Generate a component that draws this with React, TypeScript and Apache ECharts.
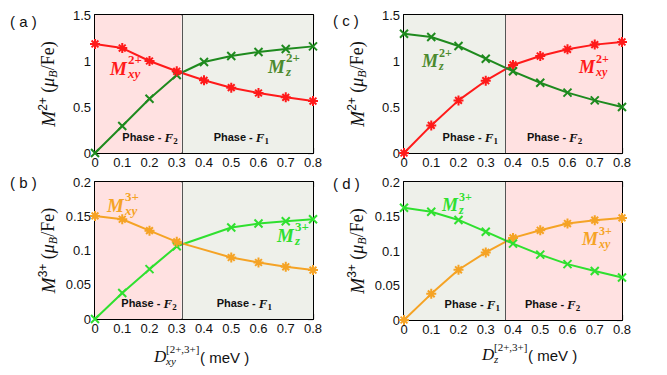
import React, { useEffect, useRef } from "react";
import * as echarts from "echarts";

// ---------- data ----------
const X_FULL = [0, 0.1, 0.2, 0.3, 0.4, 0.5, 0.6, 0.7, 0.8];
const X_B = [0, 0.1, 0.2, 0.3, 0.5, 0.6, 0.7, 0.8];

const A_MXY = [1.185, 1.141, 1.0, 0.888, 0.79, 0.71, 0.652, 0.605, 0.565];
const A_MZ = [0, 0.293, 0.59, 0.848, 0.989, 1.054, 1.098, 1.13, 1.159];
const B_MXY = [0.1505, 0.1456, 0.129, 0.1126, 0.0898, 0.0825, 0.0762, 0.0714];
const B_MZ = [0, 0.0379, 0.0728, 0.1063, 0.1335, 0.1393, 0.1427, 0.1456];
const C_MZ = [1.297, 1.261, 1.163, 1.025, 0.888, 0.764, 0.656, 0.572, 0.5];
const C_MXY = [0, 0.3, 0.572, 0.786, 0.957, 1.054, 1.127, 1.178, 1.207];
const D_MZ = [0.1626, 0.157, 0.145, 0.128, 0.1107, 0.0947, 0.081, 0.0709, 0.0617];
const D_MXY = [0, 0.0379, 0.0728, 0.098, 0.119, 0.13, 0.1398, 0.1447, 0.148];

const BOUNDARY = [0.318, 0.318, 0.374, 0.374];
const PANEL_LABELS = ["( a )", "( b )", "( c )", "( d )"];

// ---------- styles ----------
const RED = "#ff1a1a";
const ORANGE = "#f5a325";
const DKGREEN = "#1e8a1e";
const LTGREEN = "#2fe02f";
const OLIVE = "#4c8a2e";
const PINK = "#ffe1e1";
const GREYGREEN = "#eef0ea";

const ASTER = "path://M5,0L5,10M0,5L10,5M1.6,1.6L8.4,8.4M8.4,1.6L1.6,8.4";
const CROSS = "path://M0,0L10,10M10,0L0,10";

const GRIDS = [
  { left: 95, top: 15, width: 218, height: 138 },
  { left: 95, top: 182, width: 218, height: 137 },
  { left: 404, top: 15, width: 218, height: 138 },
  { left: 404, top: 182, width: 218, height: 138 },
];

const SANS = "Liberation Sans";
const SERIF = "Liberation Serif";

function stackedLabel(x: number, cy: number, main: string, sup: string, sub: string, color: string, mainSize: number, smallSize: number, mainW: number, bold: boolean) {
  const w = bold ? "bold " : "";
  return {
    type: "group",
    z: 100,
    children: [
      { type: "text", z: 100, x, y: cy, style: { text: main, fill: color, font: `italic ${w}${mainSize}px "${SERIF}"`, align: "left", verticalAlign: "middle" } },
      { type: "text", z: 100, x: x + mainW, y: cy - mainSize * 0.44, style: { text: sup, fill: color, font: `${w}${smallSize}px "${SERIF}"`, align: "left", verticalAlign: "middle" } },
      { type: "text", z: 100, x: x + mainW, y: cy + mainSize * 0.27, style: { text: sub, fill: color, font: `italic ${w}${smallSize}px "${SERIF}"`, align: "left", verticalAlign: "middle" } },
    ],
  };
}

function phaseRich() {
  return {
    p: { fontFamily: SANS, fontWeight: "bold", fontSize: 11, color: "#111", lineHeight: 16 },
    f: { fontFamily: SERIF, fontStyle: "italic", fontWeight: "bold", fontSize: 13, color: "#111", lineHeight: 16 },
    s: { fontFamily: SERIF, fontWeight: "bold", fontSize: 9, color: "#111", lineHeight: 10, verticalAlign: "bottom" },
  };
}

export default function App() {
  const ref = useRef<HTMLDivElement>(null);
  useEffect(() => {
    if (!ref.current) return;
    const chart = echarts.init(ref.current, undefined, { renderer: "svg" });

    const xAxes: any[] = [];
    const yAxes: any[] = [];
    const yMax = [1.5, 0.2, 1.5, 0.2];
    const yInt = [0.5, 0.05, 0.5, 0.05];
    const yNames = ["2+", "3+", "2+", "3+"];
    for (let i = 0; i < 4; i++) {
      const base = {
        gridIndex: i,
        type: "value",
        min: 0,
        axisLine: { show: true, onZero: false, lineStyle: { color: "#000", width: 2 } },
        axisTick: { show: true, inside: true, length: 5, lineStyle: { color: "#000", width: 1.2 } },
        minorTick: { show: true, splitNumber: 2, length: 3, lineStyle: { color: "#000", width: 1 } },
        splitLine: { show: false },
      };
      xAxes.push({
        ...base,
        max: 0.8,
        interval: 0.1,
        position: "bottom",
        axisLabel: { show: true, fontFamily: SANS, fontSize: 13, color: "#111", margin: 3, formatter: (v: number) => (v === 0 ? "0" : v.toFixed(1)) },
      });
      yAxes.push({
        ...base,
        max: yMax[i],
        interval: yInt[i],
        position: "left",
        axisLabel: { show: true, fontFamily: SANS, fontSize: 13, color: "#111", margin: 4, formatter: (v: number) => String(+v.toFixed(3)) },
        name: `{m|M}{sp|${yNames[i]}}{t| (}{mu|μ}{sb|B}{t|/Fe)}`,
        nameLocation: "middle",
        nameRotate: 90,
        nameGap: 36,
        nameTextStyle: {
          rich: {
            m: { fontFamily: SERIF, fontStyle: "italic", fontSize: 19, color: "#111", lineHeight: 22 },
            sp: { fontFamily: SANS, fontSize: 12, color: "#111", lineHeight: 12, verticalAlign: "top" },
            t: { fontFamily: SERIF, fontSize: 18, color: "#111", lineHeight: 22 },
            mu: { fontFamily: SERIF, fontStyle: "italic", fontSize: 18, color: "#111", lineHeight: 22 },
            sb: { fontFamily: SERIF, fontStyle: "italic", fontSize: 12, color: "#111", lineHeight: 12, verticalAlign: "bottom" },
          },
        },
      });
    }
    for (let i = 0; i < 4; i++) {
      const mirror = {
        gridIndex: i,
        type: "value",
        min: 0,
        axisLine: { show: true, onZero: false, lineStyle: { color: "#000", width: 2 } },
        axisTick: { show: true, inside: true, length: 5, lineStyle: { color: "#000", width: 1.2 } },
        minorTick: { show: true, splitNumber: 2, length: 3, lineStyle: { color: "#000", width: 1 } },
        splitLine: { show: false },
        axisLabel: { show: false },
      };
      xAxes.push({ ...mirror, max: 0.8, interval: 0.1, position: "top" });
      yAxes.push({ ...mirror, max: yMax[i], interval: yInt[i], position: "right" });
    }

    const pair = (xs: number[], ys: number[]) => xs.map((x, k) => [x, ys[k]]);
    const lineSeries = (i: number, data: number[][], color: string, symbol: string, size: number, z: number) => ({
      type: "line",
      xAxisIndex: i,
      yAxisIndex: i,
      data,
      symbol,
      symbolSize: size,
      showSymbol: true,
      z,
      lineStyle: { color, width: 2 },
      itemStyle: { color, borderColor: color, borderWidth: 2 },
      clip: false,
    });

    const leftPhase = ["2", "2", "1", "1"];
    const rightPhase = ["1", "1", "2", "2"];
    const leftCol = [PINK, PINK, GREYGREEN, GREYGREEN];
    const rightCol = [GREYGREEN, GREYGREEN, PINK, PINK];
    const leftGap = [4, 5, 8, 6];
    const rightGap = [32, 35, 21, 19];

    const areaSeries = (i: number) => ({
      type: "line",
      xAxisIndex: i,
      yAxisIndex: i,
      data: [],
      z: 1,
      markArea: {
        silent: true,
        data: [
          [
            { xAxis: 0, itemStyle: { color: leftCol[i] }, label: { show: true, position: "insideBottomRight", distance: 0, offset: [-leftGap[i], -8], formatter: `{p|Phase - }{f|F}{s|${leftPhase[i]}}`, rich: phaseRich() } },
            { xAxis: BOUNDARY[i] },
          ],
          [
            { xAxis: BOUNDARY[i], itemStyle: { color: rightCol[i] }, label: { show: true, position: "insideBottomLeft", distance: 0, offset: [rightGap[i], -8], formatter: `{p|Phase - }{f|F}{s|${rightPhase[i]}}`, rich: phaseRich() } },
            { xAxis: 0.8 },
          ],
        ],
      },
      markLine: {
        silent: true,
        symbol: "none",
        label: { show: false },
        lineStyle: { color: "#555", width: 1, type: "solid" },
        data: [{ xAxis: BOUNDARY[i] }],
      },
    });

    const series: any[] = [
      areaSeries(0), areaSeries(1), areaSeries(2), areaSeries(3),
      lineSeries(0, pair(X_FULL, A_MZ), DKGREEN, CROSS, 8, 3),
      lineSeries(0, pair(X_FULL, A_MXY), RED, ASTER, 10, 4),
      lineSeries(1, pair(X_B, B_MZ), LTGREEN, CROSS, 8, 3),
      lineSeries(1, pair(X_B, B_MXY), ORANGE, ASTER, 10, 4),
      lineSeries(2, pair(X_FULL, C_MXY), RED, ASTER, 10, 3),
      lineSeries(2, pair(X_FULL, C_MZ), DKGREEN, CROSS, 8, 4),
      lineSeries(3, pair(X_FULL, D_MXY), ORANGE, ASTER, 10, 3),
      lineSeries(3, pair(X_FULL, D_MZ), LTGREEN, CROSS, 8, 4),
    ];

    const panelPos = [
      [10, 21],
      [10, 182],
      [333, 20],
      [333, 183],
    ];

    const graphic: any[] = [
      ...PANEL_LABELS.map((t, i) => ({
        type: "text",
        z: 100,
        x: panelPos[i][0],
        y: panelPos[i][1],
        style: { text: t, fill: "#111", font: `15px "${SANS}"`, align: "left", verticalAlign: "middle" },
      })),
      stackedLabel(110, 68, "M", "2+", "xy", RED, 19, 13, 18, true),
      stackedLabel(268, 66, "M", "2+", "z", OLIVE, 19, 13, 18, true),
      stackedLabel(107, 205, "M", "3+", "xy", ORANGE, 19, 13, 18, true),
      stackedLabel(277, 235, "M", "3+", "z", LTGREEN, 19, 13, 18, true),
      stackedLabel(422, 61, "M", "2+", "z", OLIVE, 18, 12, 17, true),
      stackedLabel(579, 67, "M", "2+", "xy", RED, 18, 12, 17, true),
      stackedLabel(442, 205, "M", "3+", "z", LTGREEN, 18, 12, 17, true),
      stackedLabel(582, 239, "M", "3+", "xy", ORANGE, 18, 12, 17, true),
      // x-axis titles
      stackedLabel(154, 356, "D", "[2+,3+]", "xy", "#111", 17, 11, 12, false),
      { type: "text", z: 100, x: 200, y: 357, style: { text: "( meV )", fill: "#111", font: `15px "${SANS}"`, align: "left", verticalAlign: "middle" } },
      stackedLabel(482, 354, "D", "[2+,3+]", "z", "#111", 17, 11, 12, false),
      { type: "text", z: 100, x: 528, y: 355, style: { text: "( meV )", fill: "#111", font: `15px "${SANS}"`, align: "left", verticalAlign: "middle" } },
    ];

    chart.setOption({
      animation: false,
      backgroundColor: "#fff",
      grid: GRIDS.map((g) => ({ ...g, containLabel: false, show: false })),
      xAxis: xAxes,
      yAxis: yAxes,
      series,
      graphic,
    });
    return () => chart.dispose();
  }, []);

  return <div ref={ref} style={{ position: "fixed", left: 0, top: 0, width: 667, height: 375 }} />;
}
